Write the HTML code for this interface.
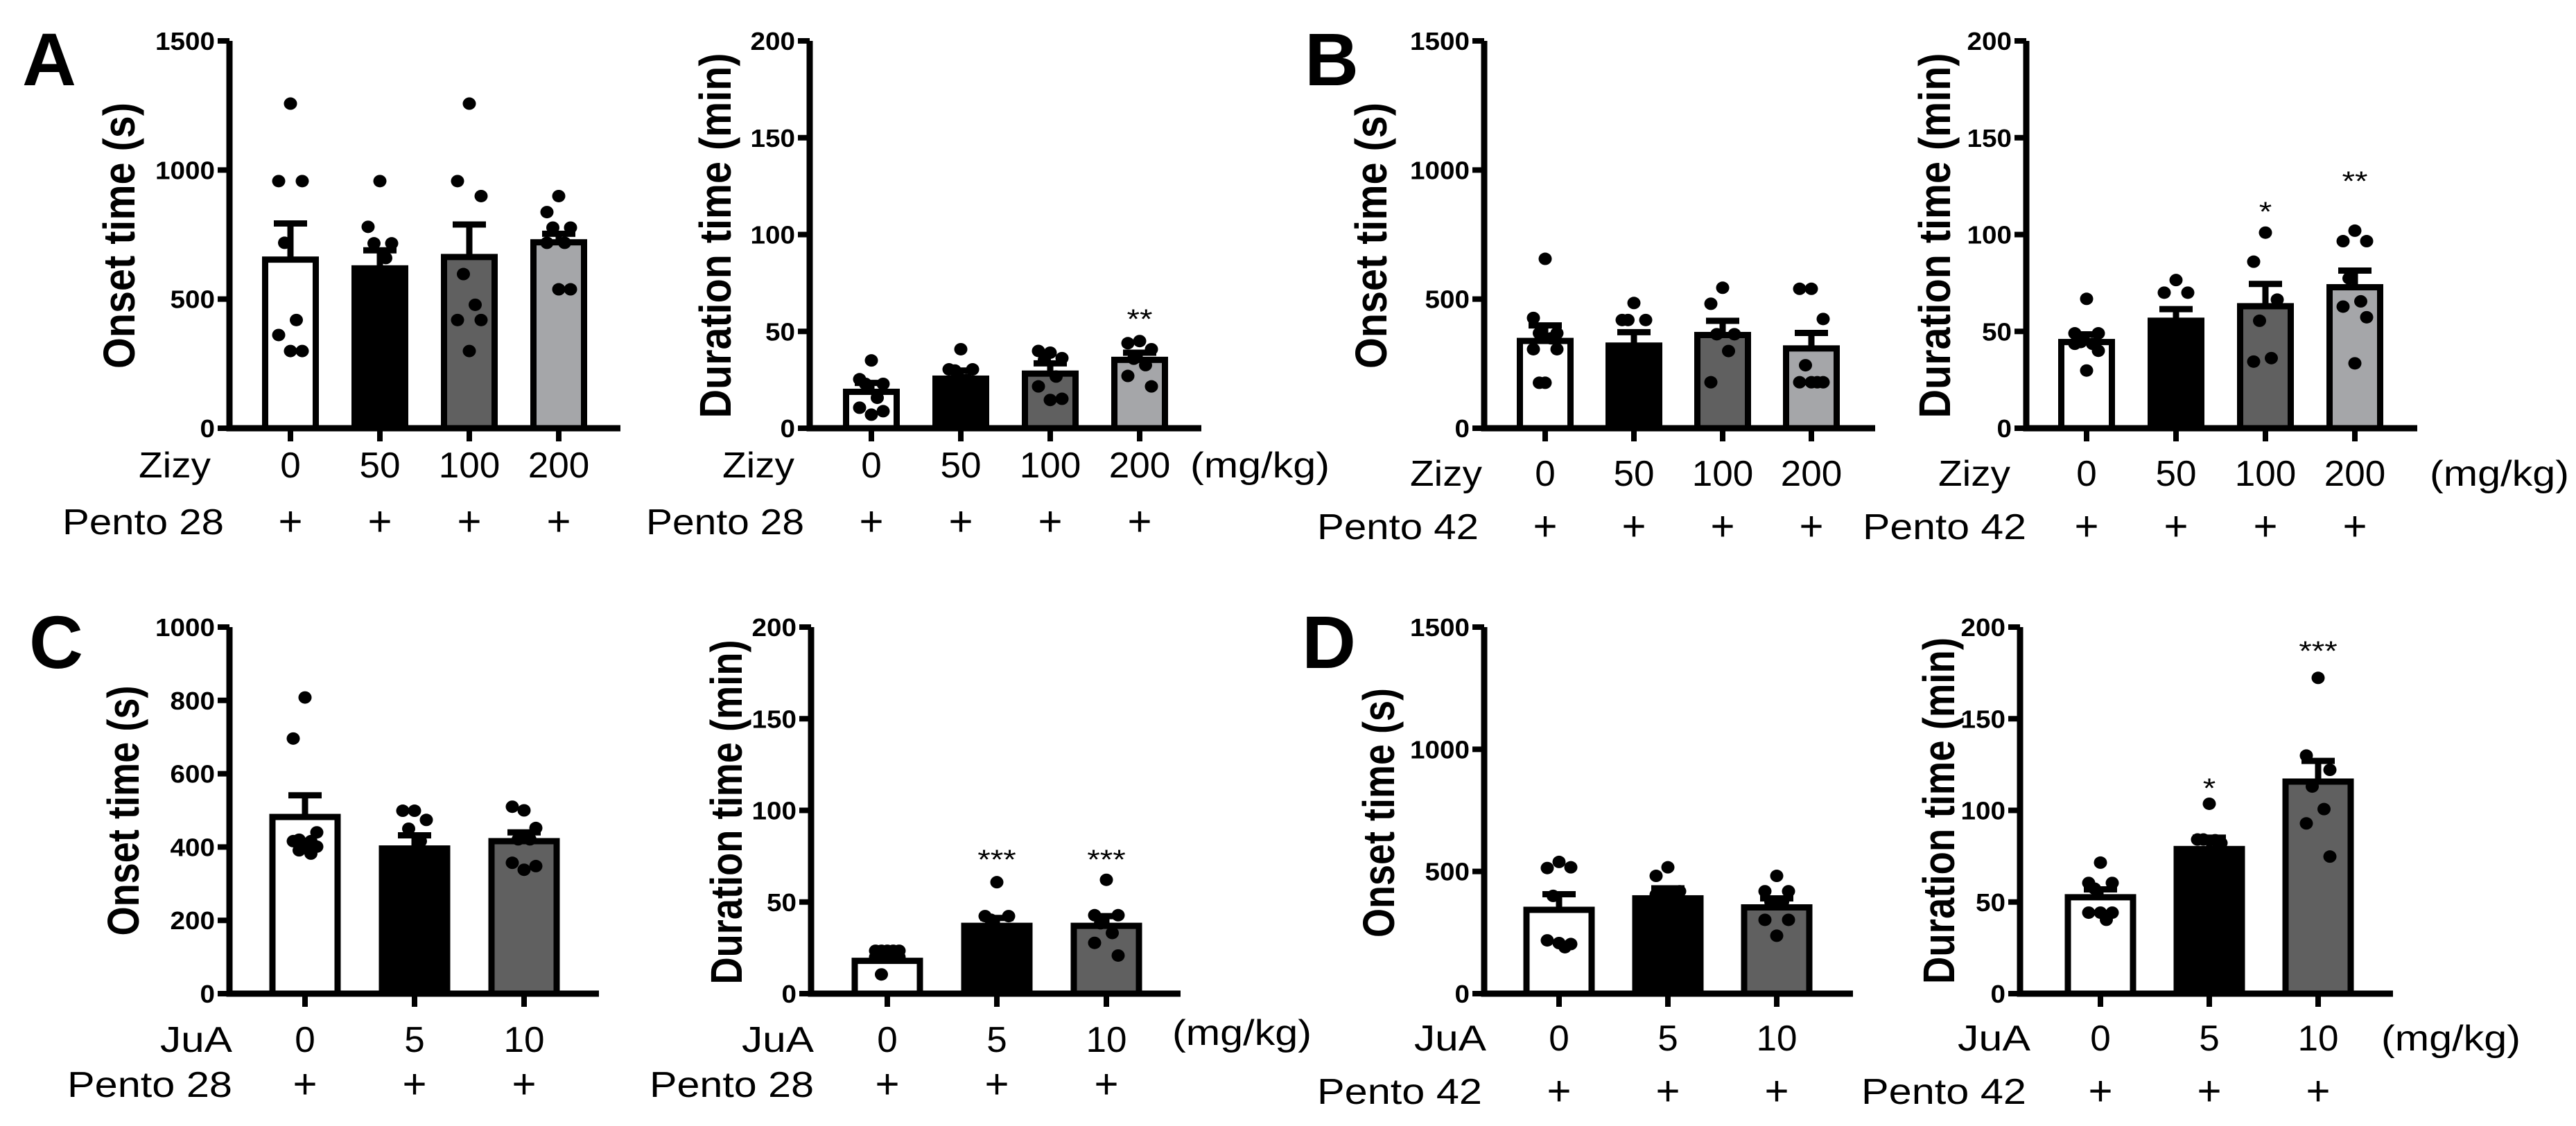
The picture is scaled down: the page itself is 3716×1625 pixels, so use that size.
<!DOCTYPE html>
<html><head><meta charset="utf-8"><style>
html,body{margin:0;padding:0;background:#fff;}
svg{display:block;}
text{font-family:"Liberation Sans",Arial,sans-serif;fill:#000;}
</style></head><body>
<svg id="fig" width="3716" height="1625" viewBox="0 0 3716 1625" xmlns="http://www.w3.org/2000/svg">
<text x="32" y="123" font-size="108" font-weight="bold">A</text>
<text x="1882" y="123" font-size="108" font-weight="bold">B</text>
<text x="42" y="964" font-size="108" font-weight="bold">C</text>
<text x="1878" y="964" font-size="108" font-weight="bold">D</text>
</svg>
<script>
// ---- data ----
const catsZizy = ["0","50","100","200"];
const catsJuA = ["0","5","10"];
const fills4 = ["#ffffff","#000000","#606060","#a5a6a9"];
const fills3 = ["#ffffff","#000000","#606060"];

const a1Means = [653, 619, 663, 720];
const a1Sem = [140, 70, 126, 33];
const a1Points = [[1257,957,957,718,419,361,299,299],[957,780,716,716,659,600],[1257,957,899,597,478,419,419,299],[899,837,777,777,718,718,538,538]];
const a2Means = [18.8, 25.6, 28.2, 35.3];
const a2Sem = [4.6, 4.2, 5.3, 3.7];
const a2Points = [[35,25.3,22.9,22.9,15.7,10.6,8.8,7],[40.8,30.4,30.4,29.8,25],[39,39.9,36.2,35.3,26.7,21.6,15.2,14.6],[45,43.9,40.8,35.9,32.6,27,21.6]];
const a2Stars = ["","","","**"];

const b1Means = [338, 320, 361, 309];
const b1Sem = [60, 52, 55, 60];
const b1Points = [[656,427,368,368,348,306,306,176,176],[485,419,419,419,300,250],[544,482,364,364,299,178],[540,540,423,244,178,178,178,178]];
const b2Means = [44.5, 55.5, 63, 72.8];
const b2Sem = [4, 6, 11.5, 8.6];
const b2Points = [[66.8,49,49,44.5,43.6,43.6,40,29.8],[76.5,70,70,50,45],[101,86,66.4,55.5,36.2,34.4],[102,96.6,96.6,77.4,65.5,62.8,57.3,33.5]];
const b2Stars = ["","","*","**"];

const c1Means = [482, 396, 416];
const c1Sem = [59, 36, 24];
const c1Points = [[808,696,440,420,416,416,401,398,391,382],[499,499,474,450,416],[500,510,452,421,421,357,348,338]];
const c2Means = [17.9, 37, 37];
const c2Sem = [2, 4.3, 5.3];
const c2Points = [[23.4,23.4,23.4,23.4,23.4,19.9,19.9,19.9,10.5],[60.8,42.3,42.3,40.3],[62.1,42.8,42.8,38.4,33.1,27.7,20.8]];
const c2Stars = ["","***","***"];

const d1Means = [343, 390, 353];
const d1Sem = [64, 41, 37];
const d1Points = [[539,514,517,400,190,218,203,207],[517,482,419,409,405,405],[482,419,419,375,375,302,302,237]];
const d2Means = [52.6, 78.9, 115.7];
const d2Sem = [4.3, 6.2, 11.3];
const d2Points = [[71.5,60.4,60.4,57.3,40.3,44.2,44.2,44.2],[103.6,84.1,82.2,84.1,83.7],[172.3,129.9,122.1,113,100.7,92.9,74.8]];
const d2Stars = ["","*","***"];

const ticks1500 = [0,500,1000,1500];
const ticks1000 = [0,200,400,600,800,1000];
const ticks200 = [0,50,100,150,200];

// ---- drawing ----
const NS = "http://www.w3.org/2000/svg";
const svg = document.getElementById("fig");
function mk(tag, attrs, parent){
  const e = document.createElementNS(NS, tag);
  for (const k in attrs) e.setAttribute(k, attrs[k]);
  (parent||svg).appendChild(e);
  return e;
}
function txt(parent, s, x, y, size, opts){
  const t = mk("text", Object.assign({x:x, y:y, "font-size":size}, opts||{}), parent);
  t.textContent = s;
  return t;
}

function panel(cfg){
  const g = mk("g", {});
  
  
  const ys = v => cfg.y0 - (v / cfg.ymax) * (cfg.y0 - cfg.ytop);
  const xs = i => cfg.x1 + i * cfg.step;
  cfg.means.forEach((m, i) => {
    const bw = cfg.bw - 9;
    const r = mk("rect", {x: xs(i) - bw/2, y: ys(m), width: bw, height: cfg.y0 - ys(m), fill: cfg.fills[i], stroke:"#000", "stroke-width":9}, g);
    
    
    const eTop = ys(m + cfg.sem[i]);
    const el = mk("path", {d:`M${xs(i)} ${ys(m)} V${eTop} M${xs(i)-24} ${eTop} H${xs(i)+24}`, stroke:"#000", "stroke-width":9, fill:"none"}, g);
    
    
  });
  cfg.points.forEach((arr, i) => {
    arr.forEach((v, j) => {
      const offs = [0,-1,1,-0.5,0.5,-1,1,0,-0.5,0.5];
      const dx = offs[j % offs.length] * 17;
      const c = mk("ellipse", {cx: xs(i) + dx, cy: ys(v), rx: 9.5, ry: 9, fill:"#000"}, g);
      
      
    });
  });
  const ax = mk("path", {d:`M${cfg.ax} ${cfg.ytop} V${cfg.y0} M${cfg.ax-4.5} ${cfg.y0} H${cfg.xend}`, stroke:"#000", "stroke-width":9, fill:"none"}, g);
  
  
  cfg.ticks.forEach(t => {
    const ty = ys(t);
    mk("path", {d:`M${cfg.ax-17} ${ty} H${cfg.ax}`, stroke:"#000", "stroke-width":8}, g);
    const s = String(t);
    const tl = txt(g, s, cfg.ax - 21, ty + 13, 36, {"font-weight":"bold","text-anchor":"end", textLength: s.length*21.5, lengthAdjust:"spacingAndGlyphs"});
    
    
  });
  cfg.cats.forEach((c, i) => {
    mk("path", {d:`M${xs(i)} ${cfg.y0} V${cfg.y0+19}`, stroke:"#000", "stroke-width":8}, g);
    const cl = txt(g, c, xs(i), cfg.catY, 52, {"text-anchor":"middle", textLength: c.length*29.5, lengthAdjust:"spacingAndGlyphs"});
    
    
    const pl = txt(g, "+", xs(i), cfg.pentoY + 2, 60, {"text-anchor":"middle"});
    
    
    if (cfg.stars && cfg.stars[i]) {
      const st = txt(g, cfg.stars[i], xs(i), cfg.starY[i], 40, {"text-anchor":"middle", textLength: cfg.stars[i].length*18.5, lengthAdjust:"spacingAndGlyphs"});
      
      
    }
  });
  const rl = txt(g, cfg.drug, cfg.drugR, cfg.catY, 52, {"text-anchor":"end", textLength: cfg.drugW, lengthAdjust:"spacingAndGlyphs"});
  
  
  const pr = txt(g, cfg.pento, cfg.pentoR, cfg.pentoY, 52, {"text-anchor":"end", textLength: cfg.pentoW, lengthAdjust:"spacingAndGlyphs"});
  
  
  if (cfg.unitX) {
    const u = txt(g, "(mg/kg)", cfg.unitX, cfg.unitY, 52, {textLength: 201, lengthAdjust:"spacingAndGlyphs"});
    
    
  }
  const yt = txt(g, cfg.title, 0, 0, 64, {"font-weight":"bold","text-anchor":"middle", textLength: cfg.titleLen, lengthAdjust:"spacingAndGlyphs", transform:`translate(${cfg.titleX+24} ${cfg.titleY}) rotate(-90)`});
  
  
}

panel({name:"panel-a-onset", ax:331, ytop:59, y0:618, xend:895, x1:419, step:129, bw:82, ymax:1500, ticks:ticks1500,
  means:a1Means, sem:a1Sem, points:a1Points, fills:fills4, cats:catsZizy, catY:689, pentoY:771,
  drug:"Zizy", drugR:304, drugW:104, pento:"Pento 28", pentoR:323, pentoW:233,
  title:"Onset time (s)", titleX:170, titleY:340, titleLen:384});
panel({name:"panel-a-duration", ax:1168, ytop:59, y0:618, xend:1733, x1:1257, step:129, bw:82, ymax:200, ticks:ticks200,
  means:a2Means, sem:a2Sem, points:a2Points, fills:fills4, cats:catsZizy, catY:689, pentoY:771,
  drug:"Zizy", drugR:1146, drugW:104, pento:"Pento 28", pentoR:1160, pentoW:228,
  unitX:1717, unitY:689, stars:a2Stars, starY:[0,0,0,474],
  title:"Duration time (min)", titleX:1030, titleY:340, titleLen:527});
panel({name:"panel-b-onset", ax:2141, ytop:59, y0:618, xend:2705, x1:2229, step:128, bw:82, ymax:1500, ticks:ticks1500,
  means:b1Means, sem:b1Sem, points:b1Points, fills:fills4, cats:catsZizy, catY:701, pentoY:778,
  drug:"Zizy", drugR:2138, drugW:104, pento:"Pento 42", pentoR:2133, pentoW:233,
  title:"Onset time (s)", titleX:1976, titleY:340, titleLen:384});
panel({name:"panel-b-duration", ax:2923, ytop:59, y0:618, xend:3487, x1:3010, step:129, bw:82, ymax:200, ticks:ticks200,
  means:b2Means, sem:b2Sem, points:b2Points, fills:fills4, cats:catsZizy, catY:701, pentoY:778,
  drug:"Zizy", drugR:2900, drugW:104, pento:"Pento 42", pentoR:2923, pentoW:236,
  unitX:3505, unitY:701, stars:b2Stars, starY:[0,0,319,275],
  title:"Duration time (min)", titleX:2789, titleY:340, titleLen:527});
panel({name:"panel-c-onset", ax:331, ytop:905, y0:1434, xend:864, x1:440, step:158, bw:103, ymax:1000, ticks:ticks1000,
  means:c1Means, sem:c1Sem, points:c1Points, fills:fills3, cats:catsJuA, catY:1518, pentoY:1583,
  drug:"JuA", drugR:335, drugW:104, pento:"Pento 28", pentoR:335, pentoW:238,
  title:"Onset time (s)", titleX:176, titleY:1170, titleLen:361});
panel({name:"panel-c-duration", ax:1170, ytop:905, y0:1434, xend:1703, x1:1280, step:158, bw:103, ymax:200, ticks:ticks200,
  means:c2Means, sem:c2Sem, points:c2Points, fills:fills3, cats:catsJuA, catY:1518, pentoY:1583,
  drug:"JuA", drugR:1174, drugW:104, pento:"Pento 28", pentoR:1174, pentoW:237,
  unitX:1691, unitY:1508, stars:c2Stars, starY:[0,1254,1254],
  title:"Duration time (min)", titleX:1046, titleY:1172, titleLen:497});
panel({name:"panel-d-onset", ax:2141, ytop:905, y0:1434, xend:2673, x1:2249, step:157, bw:103, ymax:1500, ticks:ticks1500,
  means:d1Means, sem:d1Sem, points:d1Points, fills:fills3, cats:catsJuA, catY:1516, pentoY:1593,
  drug:"JuA", drugR:2144, drugW:104, pento:"Pento 42", pentoR:2138, pentoW:238,
  title:"Onset time (s)", titleX:1987, titleY:1173, titleLen:360});
panel({name:"panel-d-duration", ax:2914, ytop:905, y0:1434, xend:3452, x1:3030, step:157, bw:103, ymax:200, ticks:ticks200,
  means:d2Means, sem:d2Sem, points:d2Points, fills:fills3, cats:catsJuA, catY:1516, pentoY:1593,
  drug:"JuA", drugR:2929, drugW:105, pento:"Pento 42", pentoR:2923, pentoW:238,
  unitX:3435, unitY:1516, stars:d2Stars, starY:[0,1151,953],
  title:"Duration time (min)", titleX:2795, titleY:1170, titleLen:500});
</script>
</body></html>
